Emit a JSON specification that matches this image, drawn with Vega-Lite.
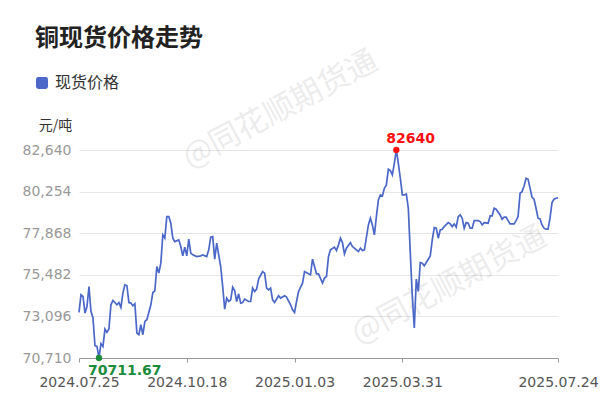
{
  "$schema": "https://vega.github.io/schema/vega-lite/v6.json",
  "width": 479,
  "height": 208,
  "autosize": {"type": "none"},
  "padding": {"left": 79, "top": 150, "right": 42, "bottom": 50},
  "background": "white",
  "title": {"text": "铜现货价格走势", "anchor": "start", "frame": "group", "font": "Noto Sans CJK SC", "fontSize": 24, "fontWeight": "bold", "color": "#222222", "dx": -44, "dy": 6, "offset": 0},
  "config": {"view": {"stroke": null}, "font": "DejaVu Sans"},
  "datasets": {
    "price": [
      {"i":0,"v":73322},{"i":1,"v":74335},{"i":2,"v":74238},{"i":3,"v":73287},{"i":4,"v":73665},{"i":5,"v":74810},{"i":6,"v":73379},{"i":7,"v":73018},{"i":8,"v":71414},{"i":9,"v":71374},{"i":10,"v":70711.67},{"i":11,"v":71529},{"i":12,"v":71374},{"i":13,"v":72371},{"i":14,"v":72176},{"i":15,"v":72371},{"i":16,"v":73763},{"i":17,"v":74009},{"i":19,"v":73763},{"i":20,"v":73894},{"i":21,"v":73608},{"i":22,"v":74433},{"i":23,"v":74908},{"i":24,"v":74868},{"i":25,"v":73894},{"i":26,"v":73860},{"i":27,"v":73705},{"i":28,"v":73820},{"i":29,"v":72142},{"i":30,"v":72044},{"i":31,"v":72617},{"i":32,"v":72044},{"i":33,"v":72806},{"i":34,"v":72903},{"i":36,"v":73763},{"i":37,"v":74467},{"i":38,"v":74564},{"i":39,"v":75956},{"i":40,"v":75578},{"i":41,"v":76151},{"i":42,"v":77771},{"i":43,"v":77582},{"i":44,"v":78819},{"i":45,"v":78819},{"i":46,"v":78441},{"i":47,"v":77582},{"i":48,"v":77388},{"i":50,"v":77485},{"i":51,"v":77101},{"i":52,"v":76569},{"i":53,"v":77067},{"i":54,"v":76569},{"i":55,"v":77525},{"i":56,"v":76723},{"i":57,"v":76626},{"i":59,"v":76529},{"i":61,"v":76569},{"i":62,"v":76626},{"i":64,"v":76529},{"i":65,"v":76912},{"i":66,"v":77640},{"i":67,"v":77674},{"i":68,"v":76380},{"i":69,"v":77296},{"i":70,"v":76626},{"i":71,"v":75956},{"i":72,"v":74810},{"i":73,"v":73516},{"i":74,"v":74146},{"i":75,"v":73951},{"i":76,"v":74049},{"i":77,"v":74776},{"i":78,"v":74581},{"i":79,"v":73951},{"i":80,"v":74392},{"i":81,"v":73860},{"i":82,"v":73894},{"i":83,"v":74089},{"i":85,"v":73951},{"i":86,"v":73951},{"i":87,"v":74719},{"i":88,"v":74524},{"i":89,"v":74662},{"i":90,"v":75234},{"i":92,"v":75670},{"i":93,"v":75578},{"i":94,"v":74719},{"i":95,"v":74622},{"i":96,"v":74719},{"i":97,"v":74049},{"i":98,"v":73894},{"i":100,"v":74278},{"i":101,"v":74146},{"i":103,"v":74278},{"i":104,"v":74203},{"i":106,"v":73763},{"i":107,"v":73476},{"i":108,"v":73322},{"i":109,"v":73951},{"i":110,"v":74524},{"i":112,"v":75005},{"i":113,"v":75670},{"i":115,"v":75538},{"i":116,"v":75481},{"i":117,"v":76380},{"i":119,"v":75538},{"i":120,"v":75538},{"i":122,"v":75005},{"i":123,"v":75292},{"i":124,"v":75383},{"i":125,"v":76529},{"i":126,"v":76912},{"i":128,"v":77067},{"i":129,"v":76872},{"i":130,"v":77199},{"i":131,"v":77582},{"i":132,"v":77330},{"i":133,"v":76683},{"i":134,"v":77010},{"i":136,"v":77330},{"i":137,"v":77101},{"i":138,"v":77010},{"i":139,"v":76912},{"i":140,"v":76815},{"i":141,"v":77010},{"i":142,"v":76872},{"i":143,"v":76912},{"i":145,"v":78344},{"i":146,"v":78728},{"i":147,"v":78344},{"i":148,"v":77771},{"i":149,"v":78819},{"i":150,"v":79776},{"i":151,"v":80062},{"i":152,"v":80005},{"i":153,"v":80446},{"i":154,"v":80635},{"i":155,"v":81534},{"i":156,"v":81454},{"i":157,"v":81208},{"i":158,"v":81878},{"i":159,"v":82640},{"i":160,"v":81878},{"i":161,"v":81019},{"i":162,"v":80062},{"i":163,"v":80062},{"i":164,"v":80120},{"i":165,"v":79301},{"i":166,"v":76723},{"i":167,"v":74238},{"i":168,"v":72428},{"i":169,"v":75234},{"i":170,"v":74524},{"i":171,"v":76185},{"i":172,"v":76151},{"i":173,"v":75996},{"i":174,"v":76185},{"i":176,"v":76569},{"i":177,"v":77485},{"i":178,"v":78189},{"i":179,"v":78155},{"i":180,"v":77582},{"i":181,"v":78058},{"i":182,"v":78098},{"i":183,"v":78247},{"i":185,"v":78476},{"i":186,"v":78401},{"i":187,"v":78247},{"i":188,"v":78401},{"i":189,"v":78212},{"i":190,"v":78819},{"i":191,"v":78917},{"i":192,"v":78728},{"i":193,"v":78155},{"i":194,"v":78476},{"i":195,"v":78441},{"i":196,"v":78155},{"i":197,"v":78155},{"i":198,"v":78590},{"i":200,"v":78590},{"i":201,"v":78533},{"i":202,"v":78344},{"i":203,"v":78476},{"i":205,"v":78441},{"i":206,"v":78860},{"i":207,"v":78860},{"i":208,"v":79301},{"i":209,"v":79243},{"i":211,"v":78917},{"i":212,"v":78671},{"i":213,"v":78785},{"i":214,"v":78785},{"i":215,"v":78590},{"i":216,"v":78401},{"i":218,"v":78401},{"i":219,"v":78590},{"i":220,"v":78819},{"i":221,"v":80160},{"i":222,"v":80251},{"i":223,"v":80578},{"i":224,"v":81019},{"i":225,"v":80961},{"i":226,"v":80446},{"i":227,"v":79930},{"i":228,"v":79816},{"i":229,"v":79301},{"i":230,"v":78728},{"i":231,"v":78688},{"i":232,"v":78344},{"i":233,"v":78155},{"i":234,"v":78098},{"i":235,"v":78098},{"i":236,"v":78728},{"i":237,"v":79621},{"i":238,"v":79816},{"i":239,"v":79873},{"i":240,"v":79890}
    ],
    "extremes": [
      {"i": 10, "v": 70711.67, "label": "70711.67", "kind": "min"},
      {"i": 159, "v": 82640, "label": "82640", "kind": "max"}
    ],
    "watermark": [
      {"i": 101, "v": 84930, "t": "@同花顺期货通"},
      {"i": 185.5, "v": 74851, "t": "@同花顺期货通"}
    ]
  },
  "layer": [
    {
      "data": {"name": "watermark"},
      "mark": {"type": "text", "font": "Noto Sans CJK SC", "fontSize": 31, "angle": -28, "color": "#000000", "opacity": 0.07, "align": "center", "baseline": "middle"},
      "encoding": {
        "x": {"field": "i", "type": "quantitative", "scale": {"domain": [0, 240], "nice": false, "zero": false}},
        "y": {"field": "v", "type": "quantitative", "scale": {"domain": [70710, 82640], "nice": false, "zero": false}},
        "text": {"field": "t"}
      }
    },
    {
      "data": {"name": "price"},
      "mark": {"type": "line", "strokeWidth": 1.7, "interpolate": "linear"},
      "encoding": {
        "x": {"field": "i", "type": "quantitative", "scale": {"domain": [0, 240], "nice": false, "zero": false},
          "axis": {"values": [0, 54, 108, 162, 240], "labelExpr": "datum.value == 0 ? '2024.07.25' : datum.value == 54 ? '2024.10.18' : datum.value == 108 ? '2025.01.03' : datum.value == 162 ? '2025.03.31' : '2025.07.24'", "grid": false, "domainColor": "#999999", "tickColor": "#999999", "tickSize": 4, "labelPadding": 13, "labelColor": "#555555", "labelFontSize": 14, "labelFont": "DejaVu Sans", "labelFlush": false, "labelOverlap": false, "labelBound": false, "title": null}},
        "y": {"field": "v", "type": "quantitative", "scale": {"domain": [70710, 82640], "nice": false, "zero": false},
          "axis": {"values": [70710, 73096, 75482, 77868, 80254, 82640], "format": ",d", "grid": true, "gridColor": "#e6e6e6", "domain": false, "ticks": false, "tickSize": 0, "labelPadding": 8, "labelColor": "#999999", "labelFontSize": 14, "labelFont": "DejaVu Sans", "title": "元/吨", "titleAngle": 0, "titleX": -24, "titleY": -25, "titleAlign": "center", "titleBaseline": "middle", "titleFont": "Noto Sans CJK SC", "titleFontSize": 14, "titleFontWeight": "normal", "titleColor": "#333333"}},
        "color": {"datum": "现货价格", "type": "nominal", "scale": {"range": ["#4b67c9"]},
          "legend": {"title": null, "orient": "none", "legendX": -45, "legendY": -75, "padding": 0, "offset": 0,
            "symbolType": "M-1,-0.6Q-1,-1,-0.6,-1L0.6,-1Q1,-1,1,-0.6L1,0.6Q1,1,0.6,1L-0.6,1Q-1,1,-1,0.6Z",
            "symbolSize": 144, "labelFont": "Noto Sans CJK SC", "labelFontSize": 16, "labelColor": "#333333", "labelOffset": 5,
            "encode": {"symbols": {"update": {"fill": {"value": "#4b67c9"}, "stroke": {"value": "transparent"}, "strokeWidth": {"value": 0}, "opacity": {"value": 1}}}}}}
      }
    },
    {
      "data": {"name": "extremes"},
      "mark": {"type": "point", "filled": true, "size": 40, "opacity": 1},
      "encoding": {
        "x": {"field": "i", "type": "quantitative"},
        "y": {"field": "v", "type": "quantitative"},
        "fill": {"field": "kind", "type": "nominal", "scale": {"domain": ["min", "max"], "range": ["#1b8c3c", "#ff1010"]}, "legend": null}
      }
    },
    {
      "data": {"name": "extremes"},
      "transform": [{"filter": "datum.kind == 'max'"}],
      "mark": {"type": "text", "font": "DejaVu Sans", "fontSize": 14, "fontWeight": "bold", "align": "left", "baseline": "alphabetic", "dx": -10, "dy": -7.5, "color": "#ff1010"},
      "encoding": {
        "x": {"field": "i", "type": "quantitative"},
        "y": {"field": "v", "type": "quantitative"},
        "text": {"field": "label"}
      }
    },
    {
      "data": {"name": "extremes"},
      "transform": [{"filter": "datum.kind == 'min'"}],
      "mark": {"type": "text", "font": "DejaVu Sans", "fontSize": 14, "fontWeight": "bold", "align": "left", "baseline": "alphabetic", "dx": -11, "dy": 17, "color": "#1b8c3c"},
      "encoding": {
        "x": {"field": "i", "type": "quantitative"},
        "y": {"field": "v", "type": "quantitative"},
        "text": {"field": "label"}
      }
    }
  ],
  "resolve": {"scale": {"color": "independent"}}
}
